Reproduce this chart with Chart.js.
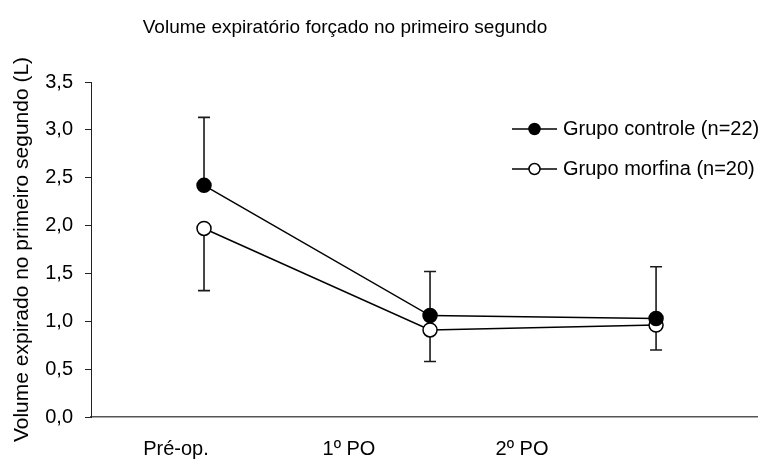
<!DOCTYPE html>
<html>
<head>
<meta charset="utf-8">
<script src="https://cdn.jsdelivr.net/npm/chart.js@4/dist/chart.umd.min.js"></script>
<style>
  html, body { margin: 0; padding: 0; background: #fff; }
  #wrap { width: 758px; height: 459px; position: relative; }
</style>
</head>
<body>
<div id="wrap"><canvas id="chart"></canvas></div>
<script>
// Time points and series (FEV1, litres)
const categories = ['Pré-op.', '1º PO', '2º PO'];
const controleMean = [2.42, 1.06, 1.03];
const controleUpper = [3.13, 1.52, 1.57];
const morfinaMean = [1.97, 0.91, 0.96];
const morfinaLower = [1.32, 0.58, 0.70];
const yTicks = [0, 0.5, 1, 1.5, 2, 2.5, 3, 3.5];
const seriesNames = ['Grupo controle (n=22)', 'Grupo morfina (n=20)'];

const FONT = '"Liberation Sans", Arial, sans-serif';

const toPoints = arr => arr.map((v, i) => ({ x: i, y: v }));

// Vertical error whiskers: one-sided, from the mean to the bound
const errorBars = {
  id: 'errorBars',
  beforeDatasetsDraw(chart) {
    const { ctx } = chart;
    const xs = chart.scales.x, ys = chart.scales.y;
    ctx.save();
    ctx.strokeStyle = '#1a1a1a';
    ctx.lineWidth = 1.6;
    chart.data.datasets.forEach(ds => {
      ds.bounds.forEach((b, i) => {
        const px = xs.getPixelForValue(i);
        const p0 = ys.getPixelForValue(ds.data[i].y);
        const p1 = ys.getPixelForValue(b);
        ctx.beginPath();
        ctx.moveTo(px, p0);
        ctx.lineTo(px, p1);
        ctx.moveTo(px - 6, p1);
        ctx.lineTo(px + 6, p1);
        ctx.stroke();
      });
    });
    ctx.restore();
  }
};

// Title and key
const annotations = {
  id: 'annotations',
  afterDraw(chart) {
    const { ctx } = chart;
    ctx.save();
    ctx.fillStyle = '#000';
    ctx.font = '19px ' + FONT;
    ctx.textAlign = 'center';
    ctx.textBaseline = 'alphabetic';
    ctx.fillText('Volume expiratório forçado no primeiro segundo', 345, 33);

    ctx.font = '20px ' + FONT;
    ctx.textBaseline = 'middle';
    const rows = [129, 169];
    chart.data.datasets.forEach((ds, k) => {
      const y = rows[k];
      ctx.strokeStyle = '#000';
      ctx.lineWidth = 1.5;
      ctx.beginPath();
      ctx.moveTo(512, y);
      ctx.lineTo(557, y);
      ctx.stroke();
      ctx.beginPath();
      ctx.arc(534.5, y, 5.5, 0, Math.PI * 2);
      ctx.fillStyle = ds.pointBackgroundColor;
      ctx.fill();
      ctx.stroke();
      ctx.fillStyle = '#000';
      ctx.textAlign = 'left';
      ctx.fillText(ds.label, 563, y);
    });
    ctx.restore();
  }
};

new Chart(document.getElementById('chart'), {
  type: 'line',
  data: {
    datasets: [
      {
        label: seriesNames[0],
        data: toPoints(controleMean),
        bounds: controleUpper,
        borderColor: '#000',
        borderWidth: 1.5,
        pointRadius: 7,
        pointBackgroundColor: '#000',
        pointBorderColor: '#000',
        pointBorderWidth: 1.5,
        xAxisID: 'x',
        yAxisID: 'y'
      },
      {
        label: seriesNames[1],
        data: toPoints(morfinaMean),
        bounds: morfinaLower,
        borderColor: '#000',
        borderWidth: 1.5,
        pointRadius: 7,
        pointBackgroundColor: '#fff',
        pointBorderColor: '#000',
        pointBorderWidth: 1.5,
        xAxisID: 'x',
        yAxisID: 'y'
      }
    ]
  },
  options: {
    responsive: true,
    maintainAspectRatio: false,
    animation: false,
    layout: { autoPadding: false, padding: { top: 82, right: 0, left: 0, bottom: 0 } },
    plugins: {
      legend: { display: false },
      title: { display: false },
      tooltip: { enabled: false }
    },
    scales: {
      x: {
        type: 'linear',
        display: false,
        min: -0.5,
        max: 2.451
      },
      xLabels: {
        type: 'linear',
        position: 'bottom',
        min: -0.491,
        max: 3.364,
        afterBuildTicks: axis => { axis.ticks = categories.map((c, i) => ({ value: i })); },
        afterFit: axis => { axis.height = 42; },
        grid: { display: false, drawTicks: false },
        border: { display: true, color: '#555', width: 1.5 },
        ticks: {
          padding: 20,
          maxRotation: 0,
          autoSkip: false,
          color: '#000',
          font: { family: FONT, size: 20 },
          callback: v => categories[v]
        }
      },
      y: {
        type: 'linear',
        min: 0,
        max: 3.5,
        afterBuildTicks: axis => { axis.ticks = yTicks.map(v => ({ value: v })); },
        afterFit: axis => { axis.width = 91; },
        grid: { display: true, drawOnChartArea: false, drawTicks: true, tickLength: 6, color: '#222' },
        border: { display: true, color: '#222', width: 1 },
        ticks: {
          padding: 12,
          color: '#000',
          font: { family: FONT, size: 20 },
          callback: v => v.toFixed(1).replace('.', ',')
        },
        title: {
          display: true,
          text: 'Volume expirado no primeiro segundo (L)',
          color: '#000',
          font: { family: FONT, size: 21 },
          padding: { top: 10, bottom: 0 }
        }
      }
    }
  },
  plugins: [errorBars, annotations]
});
</script>
</body>
</html>
